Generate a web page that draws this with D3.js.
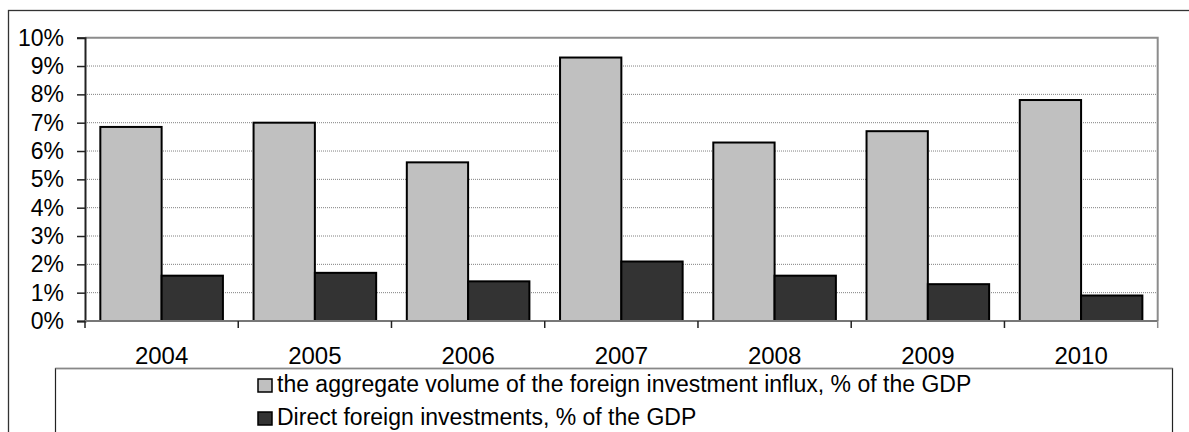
<!DOCTYPE html>
<html>
<head>
<meta charset="utf-8">
<script src="https://cdn.jsdelivr.net/npm/d3@7/dist/d3.min.js"></script>
<style>
  html, body { margin: 0; padding: 0; background: #fff; }
  svg { display: block; font-family: Arial, "Liberation Sans", sans-serif; }
</style>
</head>
<body>
<svg id="chart" width="1189" height="432"></svg>
<script>
// Foreign investment shares of GDP by year
const years = ["2004", "2005", "2006", "2007", "2008", "2009", "2010"];
const aggregateInflux = [6.85, 7.0, 5.6, 9.3, 6.3, 6.7, 7.8];
const directInvestment = [1.6, 1.7, 1.4, 2.1, 1.6, 1.3, 0.9];
const yTicks = [0, 1, 2, 3, 4, 5, 6, 7, 8, 9, 10];
const seriesNames = [
  "the aggregate volume of the foreign investment influx, % of the GDP",
  "Direct foreign investments, % of the GDP"
];
const seriesColors = ["#c0c0c0", "#333333"];

const svg = d3.select("#chart");
const plot = { left: 85, right: 1157.7, top: 37.7, bottom: 321 };

// outer frame (right/bottom edges fall outside the canvas)
svg.append("rect")
  .attr("x", 8.5).attr("y", 10.5)
  .attr("width", 1200).attr("height", 500)
  .attr("fill", "none").attr("stroke", "#333").attr("stroke-width", 1.3);

const x0 = d3.scaleBand().domain(years).range([plot.left, plot.right]).paddingInner(0).paddingOuter(0);
const x1 = d3.scaleBand().domain([0, 1]).range([0, x0.bandwidth()]).paddingOuter(0.25).paddingInner(0);
const y = d3.scaleLinear().domain([0, 10]).range([plot.bottom, plot.top]);

// dotted grid lines
svg.append("g")
  .selectAll("line")
  .data(yTicks.filter(t => t > 0 && t < 10))
  .join("line")
  .attr("x1", plot.left).attr("x2", plot.right)
  .attr("y1", d => y(d)).attr("y2", d => y(d))
  .attr("stroke", "#808080").attr("stroke-width", 1)
  .attr("stroke-dasharray", "1,1");

// plot area top and right border
svg.append("path")
  .attr("d", `M${plot.left},${y(10)}H${plot.right}V${plot.bottom}`)
  .attr("fill", "none").attr("stroke", "#8c8c8c").attr("stroke-width", 2);

// bars
const rows = years.map((yr, i) => ({ year: yr, vals: [aggregateInflux[i], directInvestment[i]] }));
const groups = svg.append("g").selectAll("g")
  .data(rows).join("g")
  .attr("transform", d => `translate(${x0(d.year)},0)`);
groups.selectAll("rect")
  .data(d => d.vals.map((v, k) => ({ v, k })))
  .join("rect")
  .attr("x", d => x1(d.k))
  .attr("width", x1.bandwidth())
  .attr("y", d => y(d.v))
  .attr("height", d => y(0) - y(d.v))
  .attr("fill", d => seriesColors[d.k])
  .attr("stroke", "#000").attr("stroke-width", 2);

// y axis
const yAxis = d3.axisLeft(y).tickValues(yTicks).tickFormat(d => d + "%").tickSize(8).tickPadding(13);
const gy = svg.append("g").attr("transform", `translate(${plot.left},0)`).call(yAxis);
gy.select(".domain").attr("stroke", "#222").attr("stroke-width", 2);
gy.selectAll(".tick line").attr("stroke", "#222").attr("stroke-width", 1.5);
gy.selectAll(".tick text").attr("font-size", 23).attr("fill", "#000")
  .attr("font-family", "Arial, 'Liberation Sans', sans-serif");

// x axis with boundary ticks between categories
svg.append("line")
  .attr("x1", plot.left).attr("x2", plot.right)
  .attr("y1", plot.bottom).attr("y2", plot.bottom)
  .attr("stroke", "#777").attr("stroke-width", 2);
const bounds = years.map(yr => x0(yr)).concat([plot.right]);
svg.append("g").selectAll("line")
  .data(bounds).join("line")
  .attr("x1", d => d).attr("x2", d => d)
  .attr("y1", plot.bottom).attr("y2", plot.bottom + 7)
  .attr("stroke", (d, i) => i === bounds.length - 1 ? "#8c8c8c" : "#222")
  .attr("stroke-width", 1.5);
svg.append("g").selectAll("text")
  .data(years).join("text")
  .attr("x", d => x0(d) + x0.bandwidth() / 2)
  .attr("y", 364)
  .attr("text-anchor", "middle")
  .attr("font-size", 24)
  .attr("fill", "#000")
  .text(d => d);

// legend
const legend = svg.append("g");
legend.append("rect")
  .attr("x", 55.5).attr("y", 368.5)
  .attr("width", 1117).attr("height", 100)
  .attr("fill", "#fff").attr("stroke", "#222").attr("stroke-width", 1.2);
legend.append("line")
  .attr("x1", 55.5).attr("x2", 1172.5).attr("y1", 368.5).attr("y2", 368.5)
  .attr("stroke", "#888").attr("stroke-width", 1.5);
const items = legend.selectAll("g.item")
  .data(seriesNames).join("g").attr("class", "item")
  .attr("transform", (d, i) => `translate(258,${379 + i * 33})`);
items.append("rect")
  .attr("width", 14).attr("height", 13)
  .attr("fill", (d, i) => seriesColors[i])
  .attr("stroke", "#000").attr("stroke-width", 1.5);
items.append("text")
  .attr("x", 19).attr("y", 13)
  .attr("font-size", 23)
  .attr("fill", "#000")
  .text(d => d);
</script>
</body>
</html>
